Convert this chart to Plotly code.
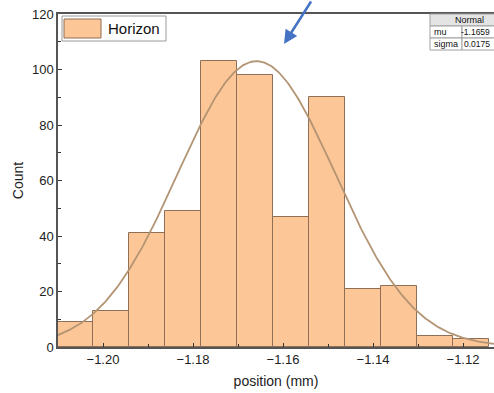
import plotly.graph_objects as go
import numpy as np

# ---- data ----
bin_centers = [-1.2062, -1.1982, -1.1902, -1.1822, -1.1742, -1.1662,
               -1.1582, -1.1502, -1.1422, -1.1342, -1.1262, -1.1182]
bin_width = 0.008
counts = [9, 13, 41, 49, 103, 98, 47, 90, 21, 22, 4, 3]
fit_mu = -1.1659
fit_sigma = 0.0175
fit_peak = 103
series_name = "Horizon"
table_rows = [("mu", "-1.1659"), ("sigma", "0.0175")]
x_ticks = [-1.20, -1.18, -1.16, -1.14, -1.12]
y_ticks = [0, 20, 40, 60, 80, 100, 120]

W, H = 494, 393
L, T, B = 58, 14, 347
R = W

def px(x):
    return (x - L) / (R - L)

def py(y):
    return (B - y) / (B - T)

xr = [-1.21, -1.21 + (R - L) / 4500]
xc = np.linspace(xr[0], xr[1], 400)
yc = fit_peak * np.exp(-(xc - fit_mu) ** 2 / (2 * fit_sigma ** 2))

fig = go.Figure()
fig.add_trace(go.Bar(x=bin_centers, y=counts, width=bin_width,
                     marker=dict(color="#FDC697", line=dict(color="#8f6f55", width=1)),
                     name=series_name, showlegend=False))
fig.add_trace(go.Scatter(x=xc, y=yc, mode="lines",
                         line=dict(color="#B39473", width=1.8), showlegend=False))

font = "Liberation Sans, Arial, sans-serif"
shapes = []
annotations = []

# custom legend
shapes.append(dict(type="rect", xref="paper", yref="paper",
                   x0=px(62), x1=px(166), y0=py(41), y1=py(16),
                   line=dict(color="#9a9a9a", width=1), fillcolor="white", layer="above"))
shapes.append(dict(type="rect", xref="paper", yref="paper",
                   x0=px(64), x1=px(101), y0=py(38), y1=py(19),
                   line=dict(color="#8f6f55", width=1), fillcolor="#FDC697", layer="above"))
annotations.append(dict(xref="paper", yref="paper", x=px(106), y=py(28.5),
                        xanchor="left", yanchor="middle", showarrow=False,
                        text=series_name, font=dict(family=font, size=15, color="#111")))

# parameter table
tx0, tx1, tx2 = 430, 462, 520
ty = [14, 26, 38, 50]
shapes.append(dict(type="rect", xref="paper", yref="paper",
                   x0=px(tx0), x1=px(tx2), y0=py(ty[1]), y1=py(ty[0]),
                   line=dict(color="#a0a0a0", width=1), fillcolor="#e4e4e4", layer="above"))
for i in range(2):
    for a, b in [(tx0, tx1), (tx1, tx2)]:
        shapes.append(dict(type="rect", xref="paper", yref="paper",
                           x0=px(a), x1=px(b), y0=py(ty[i + 2]), y1=py(ty[i + 1]),
                           line=dict(color="#a0a0a0", width=1), fillcolor="white", layer="above"))
annotations.append(dict(xref="paper", yref="paper", x=px(469), y=py(20),
                        xanchor="center", yanchor="middle", showarrow=False,
                        text="Normal", font=dict(family=font, size=9, color="#111")))
for i, (k, v) in enumerate(table_rows):
    yy = (ty[i + 1] + ty[i + 2]) / 2
    annotations.append(dict(xref="paper", yref="paper", x=px(432), y=py(yy),
                            xanchor="left", yanchor="middle", showarrow=False,
                            text=k, font=dict(family=font, size=9, color="#111")))
    annotations.append(dict(xref="paper", yref="paper", x=px(492), y=py(yy),
                            xanchor="right", yanchor="middle", showarrow=False,
                            text=v, font=dict(family=font, size=8.5, color="#111")))

# blue arrow
annotations.append(dict(xref="paper", yref="paper", x=px(284), y=py(44),
                        ax=28, ay=-48,
                        showarrow=True, arrowhead=2, arrowsize=1.1, arrowwidth=2.5,
                        arrowcolor="#4472C4", text=""))

fig.update_layout(
    width=W, height=H,
    margin=dict(l=L, r=W - R, t=T, b=H - B),
    paper_bgcolor="white", plot_bgcolor="white",
    bargap=0, shapes=shapes, annotations=annotations,
    font=dict(family=font, size=13, color="#222"),
    xaxis=dict(range=xr, tickvals=x_ticks, ticktext=["\u2212%.2f" % abs(v) for v in x_ticks],
               ticks="inside", ticklen=4, tickcolor="#333",
               minor=dict(dtick=0.01, tick0=-1.21, ticks="inside", ticklen=3, tickcolor="#333"),
               showline=True, linecolor="#555", linewidth=1.5, mirror=True,
               showgrid=False, zeroline=False,
               title=dict(text="position (mm)", font=dict(size=14, color="#222"), standoff=10)),
    yaxis=dict(range=[0, 120], tickvals=y_ticks, ticks="inside", ticklen=4, tickcolor="#333",
               minor=dict(dtick=10, ticks="inside", ticklen=3, tickcolor="#333"),
               showline=True, linecolor="#555", linewidth=1.5,
               showgrid=False, zeroline=False,
               title=dict(text="Count", font=dict(size=14, color="#222"), standoff=5)),
)
fig.write_html("out.html")
